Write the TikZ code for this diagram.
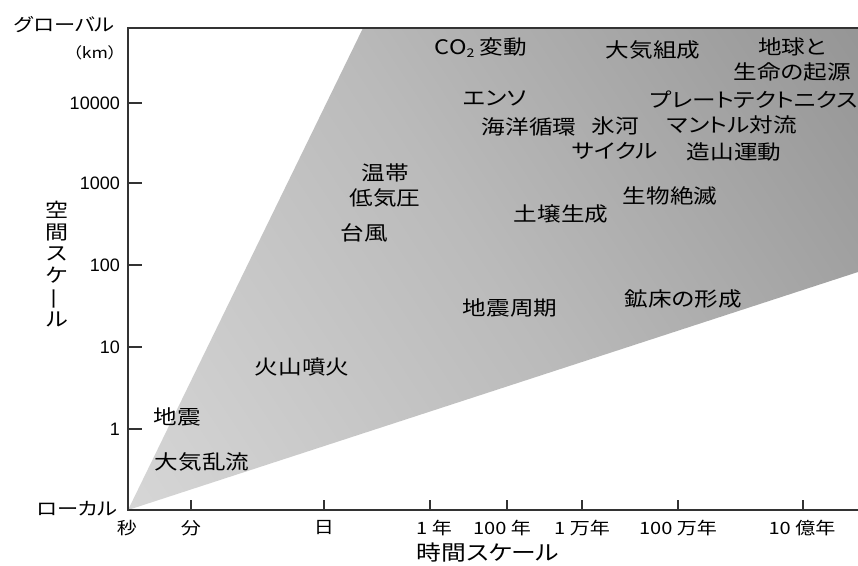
\documentclass[tikz,border=0pt]{standalone}
\usepackage{fontspec}
\newfontfamily\jp[RawFeature=+palt,FakeStretch=1.18]{Noto Sans CJK JP}
\newfontfamily\ar{Liberation Sans}
\definecolor{s0}{gray}{0.95}
\definecolor{s1}{gray}{0.73}
\definecolor{s2}{gray}{0.54}
\definecolor{s3}{gray}{0.27}
\definecolor{axisc}{gray}{0.2}
\pgfdeclarehorizontalshading{diagshade}{100bp}{color(0bp)=(s0); color(50bp)=(s1); color(83bp)=(s2); color(100bp)=(s3)}
\tikzset{
  lab/.style={font=\jp\fontsize{20}{25}\selectfont, inner sep=0pt, align=center, text=black},
  axlab/.style={font=\jp\fontsize{18}{21}\selectfont, inner sep=0pt, align=center},
  num/.style={font=\ar\fontsize{18}{20}\selectfont, inner sep=0pt, anchor=east},
  tlab/.style={font=\jp\fontsize{17}{20}\selectfont, inner sep=0pt},
  axline/.style={draw=axisc, line width=1.5pt},
  tick/.style={draw=axisc, line width=1.3pt}
}
\begin{document}
\begin{tikzpicture}[x=1pt,y=-1pt]
\useasboundingbox (0,0) rectangle (858,565);
\fill[white] (0,0) rectangle (858,565);
% corners
\coordinate (O) at (128,510);
\coordinate (TL) at (128,28);
\coordinate (TR) at (858,28);
\coordinate (BR) at (858,510);
\coordinate (G1) at (363,28);
\coordinate (G2) at (858,272);
% gradient wedge
\begin{scope}
  \clip (O) -- (G1) -- (TR) -- (G2) -- cycle;
  \begin{scope}[transform canvas={shift={(128,510)}, rotate=33.43}]
    \shade[shading=diagshade] (0,-700) rectangle (875,700);
  \end{scope}
\end{scope}
% axes
\draw[axline] (TR) -- (TL) -- (O) -- (BR);
\draw[draw=axisc, line width=2pt] (TL) -- (TR);
% y ticks
\foreach \yy/\nm/\tx in {103/y4/10000, 183/y3/1000, 265/y2/100, 347/y1/10, 429/y0/1}{
  \coordinate (\nm a) at (128,\yy);
  \coordinate (\nm b) at (142,\yy);
  \draw[tick] (\nm a) -- (\nm b);
  \node[num] (\nm l) at (120,\yy) {\tx};
}
% x ticks
\foreach \xx/\nm in {191/x1, 324/x2, 430/x3, 507/x4, 582/x5, 678/x6, 803/x7}{
  \coordinate (\nm a) at (\xx,510);
  \coordinate (\nm b) at (\xx,500);
  \draw[tick] (\nm a) -- (\nm b);
}
% x tick labels
\node[tlab] (t0) at (127,528) {秒};
\node[tlab] (t1) at (191,528) {分};
\node[tlab] (t2) at (324,528) {日};
\node[tlab] (t3) at (434,528) {1 年};
\node[tlab] (t4) at (502,528) {100 年};
\node[tlab] (t5) at (582,528) {1 万年};
\node[tlab] (t6) at (678,528) {100 万年};
\node[tlab] (t7) at (802,528) {10 億年};
% axis titles
\node[axlab, anchor=east] (glob) at (115,25) {グローバル};
\node[axlab, anchor=east, font=\jp\fontsize{15}{18}\selectfont] (km) at (117,53) {（km）};
\node[axlab, anchor=east] (loc) at (118,509) {ローカル};
\node[axlab, font=\jp\fontsize{21}{24}\selectfont] (xtitle) at (488,553) {時間スケール};
\node[axlab, font=\jp\fontsize{19.5}{21.5}\selectfont] (ytitle) at (57,264) {空\\間\\ス\\ケ\\\rotatebox[origin=c]{90}{ー}\\ル};
% phenomena
\node[lab] (co2) at (481,48) {CO{\fontsize{12}{12}\selectfont\raisebox{-3pt}{2}} 変動};
\node[lab] (atm) at (653,50) {大気組成};
\node[lab] (earth) at (792,59) {地球と\\生命の起源};
\node[lab] (enso) at (495,98) {エンソ};
\node[lab] (plate) at (754,100) {プレートテクトニクス};
\node[lab] (ocean) at (529,127) {海洋循環};
\node[lab] (ice) at (615,138) {氷河\\サイクル};
\node[lab] (mantle) at (732,125) {マントル対流};
\node[lab] (oro) at (734,152) {造山運動};
\node[lab] (extra) at (385,185) {温帯\\低気圧};
\node[lab] (typh) at (364,233) {台風};
\node[lab] (soil) at (561,214) {土壌生成};
\node[lab] (ext) at (670,196) {生物絶滅};
\node[lab] (eqc) at (510,308) {地震周期};
\node[lab] (ore) at (683,299) {鉱床の形成};
\node[lab] (volc) at (302,367) {火山噴火};
\node[lab] (eq) at (177,417) {地震};
\node[lab] (turb) at (202,462) {大気乱流};
\end{tikzpicture}
\end{document}
